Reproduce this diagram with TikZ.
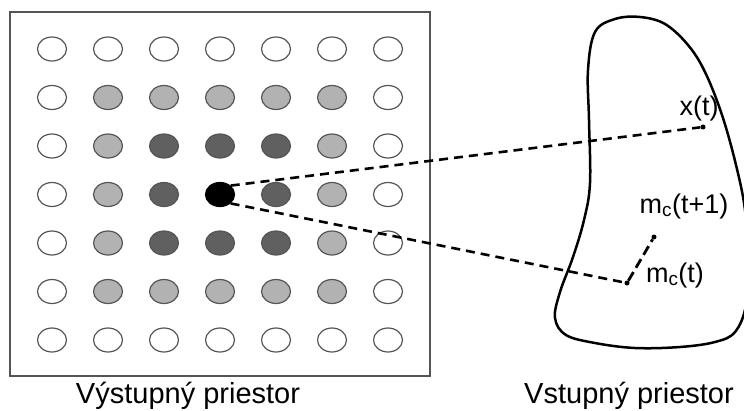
\documentclass[tikz,border=0pt]{standalone}
\usepackage{fontspec}
\setmainfont{Liberation Sans}
\usetikzlibrary{shapes.geometric}

\definecolor{lightcell}{RGB}{178,178,178}
\definecolor{darkcell}{RGB}{96,96,96}
\definecolor{rim}{RGB}{85,85,85}

\begin{document}
\begin{tikzpicture}[x=1pt, y=-1pt,
    near/.style={fill=lightcell},
    close/.style={fill=darkcell},
    bmu/.style={fill=black, draw=black},
    dot/.style={shape=circle, fill=black, inner sep=0pt, minimum size=5pt},
    link/.style={line width=2.6pt, dash pattern=on 9pt off 6pt},
    label/.style={anchor=base, inner sep=0pt, font=\fontsize{27}{32}\selectfont},
    caption/.style={anchor=base, inner sep=0pt, font=\fontsize{29}{34}\selectfont}]
  \useasboundingbox (0,0) rectangle (744,410);

  % Output space (map)
  \draw[rim, line width=1.3pt] (10,12) rectangle (430,376);
  \begin{scope}[shift={(52,49)}, xscale=56, yscale=48.5, every node/.style={draw=rim, line width=1.2pt, shape=ellipse, fill=white, minimum width=29pt, minimum height=24pt, inner sep=0pt}]
    \node (n00) at (0,0) {};
    \node (n10) at (1,0) {};
    \node (n20) at (2,0) {};
    \node (n30) at (3,0) {};
    \node (n40) at (4,0) {};
    \node (n50) at (5,0) {};
    \node (n60) at (6,0) {};

    \node (n01) at (0,1) {};
    \node[near] (n11) at (1,1) {};
    \node[near] (n21) at (2,1) {};
    \node[near] (n31) at (3,1) {};
    \node[near] (n41) at (4,1) {};
    \node[near] (n51) at (5,1) {};
    \node (n61) at (6,1) {};

    \node (n02) at (0,2) {};
    \node[near] (n12) at (1,2) {};
    \node[close] (n22) at (2,2) {};
    \node[close] (n32) at (3,2) {};
    \node[close] (n42) at (4,2) {};
    \node[near] (n52) at (5,2) {};
    \node (n62) at (6,2) {};

    \node (n03) at (0,3) {};
    \node[near] (n13) at (1,3) {};
    \node[close] (n23) at (2,3) {};
    \node[bmu] (n33) at (3,3) {};
    \node[close] (n43) at (4,3) {};
    \node[near] (n53) at (5,3) {};
    \node (n63) at (6,3) {};

    \node (n04) at (0,4) {};
    \node[near] (n14) at (1,4) {};
    \node[close] (n24) at (2,4) {};
    \node[close] (n34) at (3,4) {};
    \node[close] (n44) at (4,4) {};
    \node[near] (n54) at (5,4) {};
    \node (n64) at (6,4) {};

    \node (n05) at (0,5) {};
    \node[near] (n15) at (1,5) {};
    \node[near] (n25) at (2,5) {};
    \node[near] (n35) at (3,5) {};
    \node[near] (n45) at (4,5) {};
    \node[near] (n55) at (5,5) {};
    \node (n65) at (6,5) {};

    \node (n06) at (0,6) {};
    \node (n16) at (1,6) {};
    \node (n26) at (2,6) {};
    \node (n36) at (3,6) {};
    \node (n46) at (4,6) {};
    \node (n56) at (5,6) {};
    \node (n66) at (6,6) {};
  \end{scope}

  % Input space
  \draw[line width=2.5pt] plot[smooth cycle, tension=0.6] coordinates {
    (590,183) (589,120) (588,70) (595,32) (615,19) (640,17) (665,24)
    (688,45) (705,72) (722,115) (736,165) (745,210) (748,260) (746,305)
    (735,332) (715,342) (680,347) (635,348) (595,343) (566,335) (555,318)
    (560,292) (573,257) (584,220)};

  \node[dot] (xt) at (703,127) {};
  \node[dot] (mt) at (627,283) {};
  \node[dot] (mt1) at (654,237) {};

  \node[label] (xlab) at (699,115) {x(t)};
  \node[label] (mt1lab) at (684,213) {m\textsubscript{c}(t+1)};
  \node[label] (mtlab) at (675,282) {m\textsubscript{c}(t)};

  \draw[link] (n33.north east) -- (xt);
  \draw[link] (n33.south east) -- (mt);
  \draw[link, line width=2.8pt, dash pattern=on 10pt off 5pt] (mt) -- (mt1);

  \node[caption] (outlab) at (188,403) {Výstupný priestor};
  \node[caption] (inlab) at (629,403) {Vstupný priestor};
\end{tikzpicture}
\end{document}
